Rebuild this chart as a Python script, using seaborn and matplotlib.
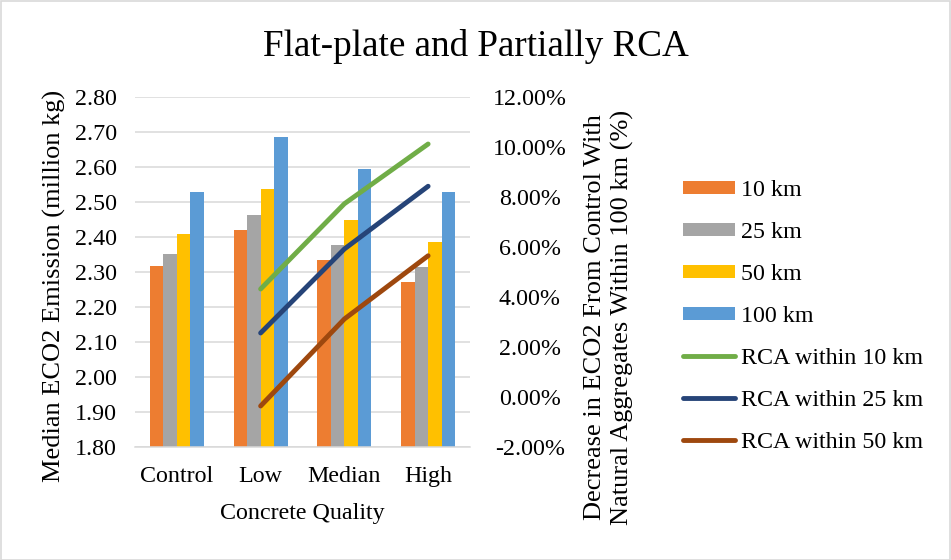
import numpy as np
import pandas as pd
import seaborn as sns
import matplotlib.pyplot as plt
from matplotlib.patches import Patch, Rectangle
from matplotlib.lines import Line2D

# Median embodied CO2 of the flat-plate slab, by concrete quality and haul distance
qualities = ["Control", "Low", "Median", "High"]
distances = ["10 km", "25 km", "50 km", "100 km"]
emission_10km = [2.317, 2.419, 2.334, 2.272]
emission_25km = [2.351, 2.463, 2.378, 2.314]
emission_50km = [2.410, 2.538, 2.450, 2.386]
emission_100km = [2.529, 2.686, 2.595, 2.529]

# Reduction (%) relative to the control mix with natural aggregates hauled 100 km
rca_qualities = ["Low", "Median", "High"]
rca_series = ["RCA within 10 km", "RCA within 25 km", "RCA within 50 km"]
rca_10km = [4.32, 7.73, 10.12]
rca_25km = [2.56, 5.92, 8.43]
rca_50km = [-0.36, 3.12, 5.65]

left_ticks = [1.80, 1.90, 2.00, 2.10, 2.20, 2.30, 2.40, 2.50, 2.60, 2.70, 2.80]
right_ticks = [-2, 0, 2, 4, 6, 8, 10, 12]

bar_colors = ["#ED7D31", "#A5A5A5", "#FFC000", "#5B9BD5"]
line_colors = ["#70AD47", "#264478", "#9E480E"]

bars = pd.DataFrame({
    "quality": np.tile(qualities, len(distances)),
    "distance": np.repeat(distances, len(qualities)),
    "emission": emission_10km + emission_25km + emission_50km + emission_100km,
})
lines = pd.DataFrame({
    "quality": np.tile(rca_qualities, len(rca_series)),
    "series": np.repeat(rca_series, len(rca_qualities)),
    "pct": rca_10km + rca_25km + rca_50km,
})
lines["pos"] = [qualities.index(q) for q in lines["quality"]]

sns.set_theme(style="white")
plt.rcParams["font.family"] = ["Liberation Serif", "DejaVu Serif"]
plt.rcParams.update({"text.color": "black", "axes.labelcolor": "black",
                     "xtick.color": "black", "ytick.color": "black"})
FS = 17.3
grid_c = "#D9D9D9"
LW = 3.5

W, H = 951, 560
fig = plt.figure(figsize=(W / 100, H / 100), dpi=100)
ax = fig.add_axes([135 / W, 1 - 447 / H, (470 - 135) / W, (447 - 97) / H])

sns.barplot(data=bars, x="quality", y="emission", hue="distance",
            order=qualities, hue_order=distances, palette=bar_colors,
            width=0.645, gap=0, saturation=1, linewidth=0, legend=False, ax=ax)
ax.set_ylim(1.80, 2.80)
ax.set_yticks(left_ticks)
ax.set_yticklabels([f"{v:.2f}" for v in left_ticks], fontsize=FS)
ax.set_xlim(-0.5, 3.5)
ax.yaxis.grid(True, color=grid_c, linewidth=1.1)
ax.set_axisbelow(True)
for s in ["left", "right", "top"]:
    ax.spines[s].set_visible(False)
ax.spines["bottom"].set_color(grid_c)
ax.spines["bottom"].set_linewidth(1.1)
ax.tick_params(axis="y", length=0, pad=13)
ax.tick_params(axis="x", length=0, pad=14, labelsize=FS)
ax.set_xlabel("Concrete Quality", fontsize=FS, labelpad=11)
ax.set_ylabel("")

ax2 = ax.twinx()
sns.lineplot(data=lines, x="pos", y="pct", hue="series", hue_order=rca_series,
             palette=line_colors, linewidth=LW, sort=False, legend=False,
             solid_capstyle="round", ax=ax2)
ax2.set_ylim(-2, 12)
ax2.set_yticks(right_ticks)
ax2.set_yticklabels([f"{v:.2f}%" for v in right_ticks], fontsize=FS, ha="center")
ax2.tick_params(axis="y", length=0, pad=43)
ax2.set_xlim(-0.5, 3.5)
ax2.set_ylabel("")
ax2.set_xlabel("")
for s in ax2.spines.values():
    s.set_visible(False)

# Axis titles
fig.text(54 / W, 1 - 286 / H, "Median ECO2 Emission (million kg)",
         rotation=90, ha="center", va="center", fontsize=19)
fig.text(609 / W, 1 - 317 / H,
         "Decrease in ECO2 From Control With\nNatural Aggregates Within 100 km (%)",
         rotation=90, ha="center", va="center", fontsize=19, linespacing=1.32)

fig.text(0.5, 1 - 47 / H, "Flat-plate and Partially RCA", ha="center", va="center",
         fontsize=26.7)

handles = [Patch(facecolor=c, edgecolor="none") for c in bar_colors]
handles += [Line2D([], [], color=c, linewidth=LW, solid_capstyle="round") for c in line_colors]
fig.legend(handles, distances + rca_series, loc="center left",
           bbox_to_anchor=(683 / W, 1 - 316.5 / H), frameon=False, fontsize=FS,
           handlelength=2.17, handleheight=0.5, handletextpad=0.25,
           labelspacing=0.875, borderpad=0, borderaxespad=0)

fig.patches.append(Rectangle((0.5 / W, 0.5 / H), 1 - 1.5 / W, 1 - 1.5 / H,
                             transform=fig.transFigure, fill=False,
                             edgecolor=grid_c, linewidth=1.2))

fig.savefig("out.png", dpi=100)
